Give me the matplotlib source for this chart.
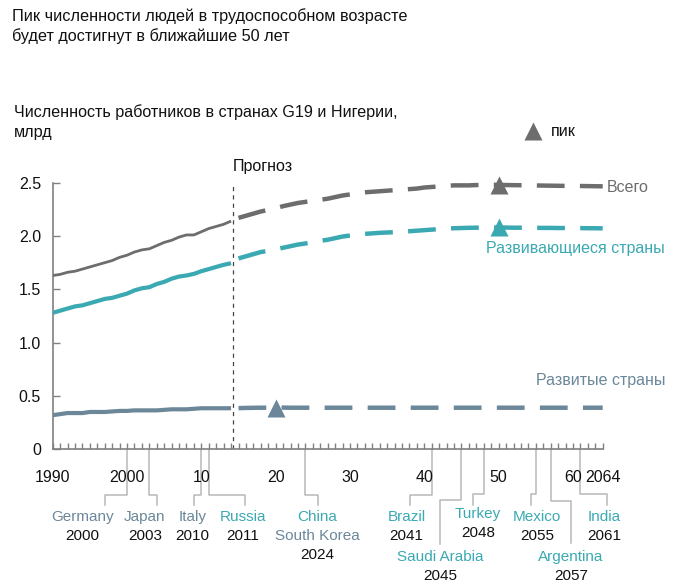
import matplotlib
matplotlib.use("Agg")
import matplotlib.pyplot as plt
import matplotlib.transforms as mtransforms

plt.rcParams['font.family'] = ['Liberation Sans', 'DejaVu Sans']
plt.rcParams['lines.scale_dashes'] = False

# ---------------- data ----------------
hist_years = list(range(1990, 2015))
total_hist = [1.63, 1.64, 1.66, 1.67, 1.69, 1.71, 1.73, 1.75, 1.77, 1.80,
              1.82, 1.85, 1.87, 1.88, 1.91, 1.94, 1.96, 1.99, 2.01, 2.01,
              2.04, 2.07, 2.09, 2.11, 2.14]
developing_hist = [1.28, 1.30, 1.32, 1.34, 1.35, 1.37, 1.39, 1.41, 1.42, 1.44,
                   1.46, 1.49, 1.51, 1.52, 1.55, 1.57, 1.60, 1.62, 1.63, 1.645,
                   1.67, 1.69, 1.71, 1.73, 1.745]
developed_hist = [0.32, 0.33, 0.34, 0.34, 0.34, 0.35, 0.35, 0.35, 0.355, 0.36,
                  0.36, 0.365, 0.365, 0.365, 0.365, 0.37, 0.375, 0.375, 0.375, 0.38,
                  0.385, 0.385, 0.385, 0.385, 0.385]

fc_years = list(range(2015, 2065))
total_fc = [2.17, 2.19, 2.21, 2.23, 2.245, 2.26, 2.28, 2.295, 2.31, 2.32,
            2.33, 2.34, 2.35, 2.365, 2.38, 2.39, 2.40, 2.41, 2.415, 2.42,
            2.425, 2.43, 2.435, 2.44, 2.445, 2.455, 2.46, 2.465, 2.47, 2.475,
            2.475, 2.475, 2.478, 2.478, 2.48, 2.48, 2.478, 2.477, 2.476, 2.475,
            2.474, 2.473, 2.472, 2.471, 2.47, 2.47, 2.469, 2.468, 2.467, 2.466]
developing_fc = [1.79, 1.81, 1.83, 1.85, 1.86, 1.875, 1.89, 1.905, 1.92, 1.93,
                 1.94, 1.955, 1.965, 1.98, 1.995, 2.005, 2.015, 2.02, 2.025, 2.03,
                 2.033, 2.036, 2.04, 2.045, 2.05, 2.055, 2.06, 2.065, 2.07, 2.073,
                 2.075, 2.077, 2.078, 2.079, 2.08, 2.08, 2.079, 2.078, 2.078, 2.077,
                 2.077, 2.076, 2.076, 2.075, 2.075, 2.074, 2.074, 2.073, 2.073, 2.072]
developed_fc = [0.386, 0.388, 0.389, 0.39, 0.39, 0.391, 0.391, 0.39, 0.39, 0.39,
                0.39, 0.39, 0.39, 0.39, 0.39, 0.39, 0.39, 0.39, 0.39, 0.39,
                0.39, 0.39, 0.39, 0.39, 0.39, 0.39, 0.39, 0.39, 0.39, 0.39,
                0.39, 0.39, 0.39, 0.39, 0.39, 0.39, 0.39, 0.39, 0.39, 0.39,
                0.39, 0.39, 0.39, 0.39, 0.39, 0.39, 0.39, 0.39, 0.39, 0.39]

peak_total_year = 2050
peak_developing_year = 2050
peak_developed_year = 2020
forecast_start = 2014.2

series_labels = ['Всего', 'Развивающиеся страны', 'Развитые страны']

x_tick_values = [1990, 2000, 2010, 2020, 2030, 2040, 2050, 2060, 2064]
x_tick_labels = ['1990', '2000', '10', '20', '30', '40', '50', '60', '2064']
y_tick_values = [0, 0.5, 1.0, 1.5, 2.0, 2.5]
y_tick_labels = ['0', '0.5', '1.0', '1.5', '2.0', '2.5']

# peak years by country (names, year, group)
country_names = [['Germany'], ['Japan'], ['Italy'], ['Russia'], ['China', 'South Korea'],
                 ['Brazil'], ['Saudi Arabia'], ['Turkey'], ['Mexico'], ['Argentina'], ['India']]
country_groups = [['dev'], ['dev'], ['dev'], ['emg'], ['emg', 'dev'],
                  ['emg'], ['emg'], ['emg'], ['emg'], ['emg'], ['emg']]
country_years = [2000, 2003, 2010, 2011, 2024, 2041, 2045, 2048, 2055, 2057, 2061]

# ---------------- styles / layout ----------------
GRAY = '#6d6d6d'
TEAL = '#3ba9b2'
SLATE = '#6b8799'
LEAD = '#b8b8b8'
AXC = '#808080'
TXT = '#111111'
grp_color = {'dev': SLATE, 'emg': TEAL}

W, H = 674, 587
fig = plt.figure(figsize=(W / 100, H / 100), dpi=100)

def fx(px):
    return px / W

def fy(py):
    return 1 - py / H

ax = fig.add_axes([fx(52.7), fy(449.3), 550 / W, 266.6 / H])
ax.set_xlim(1990, 2064)
ax.set_ylim(0, 2.5)

for s in ['top', 'right']:
    ax.spines[s].set_visible(False)
for s in ['left', 'bottom']:
    ax.spines[s].set_color(AXC)
    ax.spines[s].set_linewidth(1.2)

ax.set_xticks(x_tick_values)
ax.set_xticklabels(x_tick_labels)
ax.set_xticks(list(range(1990, 2065)), minor=True)
ax.set_yticks(y_tick_values)
ax.set_yticklabels(y_tick_labels)
ax.tick_params(axis='x', which='both', direction='in', length=4, width=1, color=AXC,
               labelsize=11.5, pad=15, labelcolor=TXT)
ax.tick_params(axis='y', which='both', direction='in', length=5, width=1, color=AXC,
               labelsize=11.5, pad=8.5, labelcolor=TXT)

# historical lines
ax.plot(hist_years, total_hist, color=GRAY, lw=2.0, solid_capstyle='butt', zorder=3)
ax.plot(hist_years, developing_hist, color=TEAL, lw=3.0, solid_capstyle='butt', zorder=3)
ax.plot(hist_years, developed_hist, color=SLATE, lw=3.0, solid_capstyle='butt', zorder=3)

# forecast lines (dashed)
dash = (20, 11)
for vals, col in [(total_fc, GRAY), (developing_fc, TEAL), (developed_fc, SLATE)]:
    ax.plot(fc_years, vals, color=col, lw=3.2, dashes=dash, dash_capstyle='butt',
            zorder=3, clip_on=False)

# peak markers
for yr, yrs, vals, col in [(peak_total_year, fc_years, total_fc, GRAY),
                           (peak_developing_year, fc_years, developing_fc, TEAL),
                           (peak_developed_year, fc_years, developed_fc, SLATE)]:
    v = vals[yrs.index(yr)]
    ax.plot([yr], [v], marker='^', ms=13, color=col, mec='none', zorder=4, clip_on=False)

# forecast divider
ax.axvline(forecast_start, ymin=0, ymax=1, color='#444444', lw=0.9, dashes=(3, 3), zorder=2)
fig.text(fx(233), fy(166), 'Прогноз', fontsize=11.5, color=TXT, va='center', ha='left')

# series labels
fig.text(fx(607), fy(187), series_labels[0], fontsize=11.5, color=GRAY, va='center', ha='left')
fig.text(fx(665), fy(248), series_labels[1], fontsize=11.5, color=TEAL, va='center', ha='right')
fig.text(fx(665), fy(381), series_labels[2], fontsize=11.5, color=SLATE, va='center', ha='right')

# legend
fig.lines.append(plt.Line2D([fx(533)], [fy(131)], marker='^', ms=13, color=GRAY, mec='none',
                            transform=fig.transFigure))
fig.text(fx(551), fy(131), 'пик', fontsize=11.5, color=TXT, va='center', ha='left')

# titles
fig.text(fx(12), fy(16), 'Пик численности людей в трудоспособном возрасте', fontsize=11.7,
         color=TXT, va='center', ha='left')
fig.text(fx(12), fy(36), 'будет достигнут в ближайшие 50 лет', fontsize=11.7,
         color=TXT, va='center', ha='left')
fig.text(fx(14), fy(112), 'Численность работников в странах G19 и Нигерии,', fontsize=11.6,
         color=TXT, va='center', ha='left')
fig.text(fx(14), fy(132), 'млрд', fontsize=11.6, color=TXT, va='center', ha='left')

# country leader lines & labels
blend = mtransforms.blended_transform_factory(ax.transData, fig.transFigure)
# layout per entry: (stub x offset in years, label x offset in years, bend y px, stub bottom px, first text row y px)
layout = [(-2.9, -6.0, 495, 505, 516.7),
          (1.05, -0.6, 495, 505, 516.7),
          (-1.0, -1.2, 495, 505, 516.7),
          (4.9, 4.6, 495, 505, 516.7),
          (1.7, 1.6, 495, 505, 516.7),
          (-2.95, -3.4, 495, 505, 516.7),
          (-2.9, -2.8, 500, 544, 556.7),
          (-1.4, -0.8, 494, 505, 514.0),
          (-0.6, 0.2, 494, 505, 516.7),
          (2.8, 2.7, 501, 543, 556.7),
          (3.6, 3.2, 494, 505, 516.7)]
row = 19.2
for names, grps, yr, (dx_stub, dx_lab, bend, bottom, ty) in zip(country_names, country_groups,
                                                                country_years, layout):
    xs = [yr, yr, yr + dx_stub, yr + dx_stub]
    ys = [fy(450), fy(bend), fy(bend), fy(bottom)]
    ax.plot(xs, ys, color=LEAD, lw=1.1, transform=blend, clip_on=False, zorder=1)
    lx = yr + dx_lab
    for i, (nm, g) in enumerate(zip(names, grps)):
        ax.text(lx, fy(ty + i * row), nm, transform=blend, fontsize=11, color=grp_color[g],
                ha='center', va='center')
    ax.text(lx, fy(ty + len(names) * row), str(yr), transform=blend, fontsize=11, color=TXT,
            ha='center', va='center')

fig.savefig('out.png', dpi=100)
